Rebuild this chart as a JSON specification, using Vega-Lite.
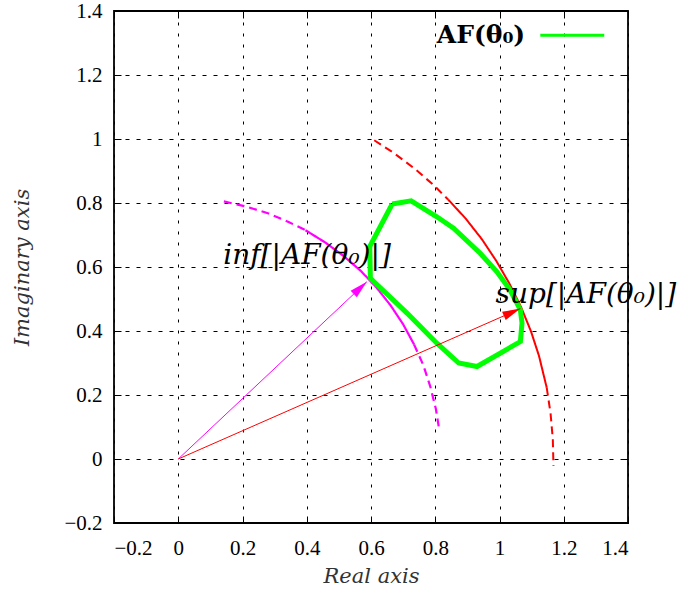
{
  "$schema": "https://vega.github.io/schema/vega-lite/v6.json",
  "width": 514,
  "height": 512,
  "autosize": {"type": "none"},
  "padding": {"left": 114, "top": 11, "right": 57, "bottom": 75},
  "background": "white",
  "config": {
    "view": {"stroke": "black", "strokeWidth": 1.8},
    "axis": {
      "domain": false,
      "labelFont": "Liberation Serif",
      "labelFontSize": 21,
      "labelColor": "black",
      "titleFont": "DejaVu Serif",
      "titleFontSize": 21,
      "titleFontStyle": "italic",
      "titleFontWeight": "normal",
      "titleColor": "#333",
      "tickColor": "black",
      "tickWidth": 1,
      "tickSize": -7,
      "gridColor": "black",
      "gridOpacity": 1,
      "gridWidth": 1
    }
  },
  "datasets": {
    "curves": [
      {"c": "sup", "seg": "s1", "dash": "dashed", "o": 1, "x": 0.610, "y": 0.996},
      {"c": "sup", "seg": "s1", "dash": "dashed", "o": 2, "x": 0.670, "y": 0.957},
      {"c": "sup", "seg": "s1", "dash": "dashed", "o": 3, "x": 0.735, "y": 0.908},
      {"c": "sup", "seg": "s1", "dash": "dashed", "o": 4, "x": 0.797, "y": 0.854},
      {"c": "sup", "seg": "s1", "dash": "dashed", "o": 5, "x": 0.840, "y": 0.811},
      {"c": "sup", "seg": "s2", "dash": "solid", "o": 1, "x": 0.840, "y": 0.811},
      {"c": "sup", "seg": "s2", "dash": "solid", "o": 2, "x": 0.895, "y": 0.751},
      {"c": "sup", "seg": "s2", "dash": "solid", "o": 3, "x": 0.945, "y": 0.687},
      {"c": "sup", "seg": "s2", "dash": "solid", "o": 4, "x": 0.990, "y": 0.619},
      {"c": "sup", "seg": "s2", "dash": "solid", "o": 5, "x": 1.031, "y": 0.548},
      {"c": "sup", "seg": "s2", "dash": "solid", "o": 6, "x": 1.067, "y": 0.475},
      {"c": "sup", "seg": "s2", "dash": "solid", "o": 7, "x": 1.098, "y": 0.399},
      {"c": "sup", "seg": "s2", "dash": "solid", "o": 8, "x": 1.123, "y": 0.322},
      {"c": "sup", "seg": "s2", "dash": "solid", "o": 9, "x": 1.147, "y": 0.223},
      {"c": "sup", "seg": "s3", "dash": "dashed", "o": 1, "x": 1.147, "y": 0.223},
      {"c": "sup", "seg": "s3", "dash": "dashed", "o": 2, "x": 1.159, "y": 0.142},
      {"c": "sup", "seg": "s3", "dash": "dashed", "o": 3, "x": 1.166, "y": 0.061},
      {"c": "sup", "seg": "s3", "dash": "dashed", "o": 4, "x": 1.168, "y": -0.022},
      {"c": "inf", "seg": "i1", "dash": "dashed", "o": 1, "x": 0.142, "y": 0.805},
      {"c": "inf", "seg": "i1", "dash": "dashed", "o": 2, "x": 0.211, "y": 0.789},
      {"c": "inf", "seg": "i1", "dash": "dashed", "o": 3, "x": 0.279, "y": 0.768},
      {"c": "inf", "seg": "i1", "dash": "dashed", "o": 4, "x": 0.345, "y": 0.740},
      {"c": "inf", "seg": "i1", "dash": "dashed", "o": 5, "x": 0.396, "y": 0.715},
      {"c": "inf", "seg": "i2", "dash": "solid", "o": 1, "x": 0.396, "y": 0.715},
      {"c": "inf", "seg": "i2", "dash": "solid", "o": 2, "x": 0.457, "y": 0.677},
      {"c": "inf", "seg": "i2", "dash": "solid", "o": 3, "x": 0.514, "y": 0.635},
      {"c": "inf", "seg": "i2", "dash": "solid", "o": 4, "x": 0.568, "y": 0.588},
      {"c": "inf", "seg": "i2", "dash": "solid", "o": 5, "x": 0.617, "y": 0.536},
      {"c": "inf", "seg": "i2", "dash": "solid", "o": 6, "x": 0.661, "y": 0.480},
      {"c": "inf", "seg": "i2", "dash": "solid", "o": 7, "x": 0.700, "y": 0.421},
      {"c": "inf", "seg": "i2", "dash": "solid", "o": 8, "x": 0.734, "y": 0.358},
      {"c": "inf", "seg": "i3", "dash": "dashed", "o": 1, "x": 0.734, "y": 0.358},
      {"c": "inf", "seg": "i3", "dash": "dashed", "o": 2, "x": 0.763, "y": 0.293},
      {"c": "inf", "seg": "i3", "dash": "dashed", "o": 3, "x": 0.785, "y": 0.225},
      {"c": "inf", "seg": "i3", "dash": "dashed", "o": 4, "x": 0.802, "y": 0.156},
      {"c": "inf", "seg": "i3", "dash": "dashed", "o": 5, "x": 0.811, "y": 0.100}
    ],
    "af": [
      {"o": 1, "x": 0.666, "y": 0.797},
      {"o": 2, "x": 0.725, "y": 0.807},
      {"o": 3, "x": 0.805, "y": 0.757},
      {"o": 4, "x": 0.857, "y": 0.721},
      {"o": 5, "x": 0.940, "y": 0.643},
      {"o": 6, "x": 0.992, "y": 0.585},
      {"o": 7, "x": 1.033, "y": 0.528},
      {"o": 8, "x": 1.065, "y": 0.466},
      {"o": 9, "x": 1.070, "y": 0.425},
      {"o": 10, "x": 1.065, "y": 0.367},
      {"o": 11, "x": 0.930, "y": 0.289},
      {"o": 12, "x": 0.873, "y": 0.300},
      {"o": 13, "x": 0.805, "y": 0.362},
      {"o": 14, "x": 0.712, "y": 0.456},
      {"o": 15, "x": 0.598, "y": 0.565},
      {"o": 16, "x": 0.596, "y": 0.664},
      {"o": 17, "x": 0.666, "y": 0.797}
    ],
    "arrows": [
      {"c": "inf", "o": 1, "x": 0, "y": 0},
      {"c": "inf", "o": 2, "x": 0.587, "y": 0.554},
      {"c": "sup", "o": 1, "x": 0, "y": 0},
      {"c": "sup", "o": 2, "x": 1.065, "y": 0.470}
    ],
    "labels": [
      {"label": "inf[|AF(θ₀)|]", "x": 0.401, "y": 0.634},
      {"label": "sup[|AF(θ₀)|]", "x": 1.269, "y": 0.513}
    ],
    "legend": [
      {"label": "AF(θ₀)", "x": 1.080, "x2": 1.127, "x3": 1.326, "y": 1.324}
    ]
  },
  "layer": [
    {
      "data": {"name": "curves"},
      "transform": [{"filter": "datum.c === 'sup'"}],
      "mark": {"type": "line", "color": "#ff0000", "strokeWidth": 2},
      "encoding": {
        "x": {"field": "x", "type": "quantitative", "scale": {"domain": [-0.2, 1.4], "nice": false, "zero": false},
              "axis": {"values": [-0.2, 0, 0.2, 0.4, 0.6, 0.8, 1, 1.2, 1.4], "format": "~g", "grid": true, "gridDash": [3, 8], "labelPadding": 21, "title": "Real axis", "titlePadding": 7}},
        "y": {"field": "y", "type": "quantitative", "scale": {"domain": [-0.2, 1.4], "nice": false, "zero": false},
              "axis": {"values": [-0.2, 0, 0.2, 0.4, 0.6, 0.8, 1, 1.2, 1.4], "format": "~g", "grid": true, "gridDash": [4, 7], "labelPadding": 19, "title": "Imaginary axis", "titlePadding": 31}},
        "detail": {"field": "seg"},
        "order": {"field": "o", "type": "quantitative"},
        "strokeDash": {"field": "dash", "type": "nominal", "scale": {"domain": ["solid", "dashed"], "range": [[1, 0], [8, 5]]}, "legend": null}
      }
    },
    {
      "data": {"name": "curves"},
      "transform": [{"filter": "datum.c === 'inf'"}],
      "mark": {"type": "line", "color": "#ff00ff", "strokeWidth": 2.2},
      "encoding": {
        "x": {"field": "x", "type": "quantitative", "axis": null},
        "y": {"field": "y", "type": "quantitative", "axis": null},
        "detail": {"field": "seg"},
        "order": {"field": "o", "type": "quantitative"},
        "strokeDash": {"field": "dash", "type": "nominal", "legend": null}
      }
    },
    {
      "data": {"name": "af"},
      "mark": {"type": "line", "color": "#00ff00", "strokeWidth": 5, "strokeJoin": "miter"},
      "encoding": {
        "x": {"field": "x", "type": "quantitative", "axis": null},
        "y": {"field": "y", "type": "quantitative", "axis": null},
        "order": {"field": "o", "type": "quantitative"}
      }
    },
    {
      "data": {"name": "arrows"},
      "transform": [{"filter": "datum.c === 'inf'"}],
      "mark": {"type": "line", "color": "#ff00ff", "strokeWidth": 1},
      "encoding": {
        "x": {"field": "x", "type": "quantitative", "axis": null},
        "y": {"field": "y", "type": "quantitative", "axis": null},
        "order": {"field": "o", "type": "quantitative"}
      }
    },
    {
      "data": {"name": "arrows"},
      "transform": [{"filter": "datum.c === 'sup'"}],
      "mark": {"type": "line", "color": "#ff0000", "strokeWidth": 1},
      "encoding": {
        "x": {"field": "x", "type": "quantitative", "axis": null},
        "y": {"field": "y", "type": "quantitative", "axis": null},
        "order": {"field": "o", "type": "quantitative"}
      }
    },
    {
      "data": {"name": "arrows"},
      "transform": [{"filter": "datum.c === 'inf' && datum.o === 2"}],
      "mark": {"type": "point", "shape": "M0,0L-0.5,2L0.5,2Z", "size": 324, "angle": 46.7, "filled": true, "color": "#ff00ff", "opacity": 1},
      "encoding": {
        "x": {"field": "x", "type": "quantitative", "axis": null},
        "y": {"field": "y", "type": "quantitative", "axis": null}
      }
    },
    {
      "data": {"name": "arrows"},
      "transform": [{"filter": "datum.c === 'sup' && datum.o === 2"}],
      "mark": {"type": "point", "shape": "M0,0L-0.5,2L0.5,2Z", "size": 324, "angle": 66.2, "filled": true, "color": "#ff0000", "opacity": 1},
      "encoding": {
        "x": {"field": "x", "type": "quantitative", "axis": null},
        "y": {"field": "y", "type": "quantitative", "axis": null}
      }
    },
    {
      "data": {"name": "labels"},
      "mark": {"type": "text", "font": "DejaVu Serif", "fontStyle": "italic", "fontSize": 28, "align": "center", "baseline": "middle", "color": "black"},
      "encoding": {
        "x": {"field": "x", "type": "quantitative", "axis": {"orient": "top", "values": [-0.2, 0, 0.2, 0.4, 0.6, 0.8, 1, 1.2, 1.4], "labels": false, "grid": false, "title": null}},
        "y": {"field": "y", "type": "quantitative", "axis": {"orient": "right", "values": [-0.2, 0, 0.2, 0.4, 0.6, 0.8, 1, 1.2, 1.4], "labels": false, "grid": false, "title": null}},
        "text": {"field": "label"}
      }
    },
    {
      "data": {"name": "legend"},
      "mark": {"type": "text", "font": "DejaVu Serif", "fontWeight": "bold", "fontSize": 25, "align": "right", "baseline": "middle", "color": "black"},
      "encoding": {
        "x": {"field": "x", "type": "quantitative", "axis": null},
        "y": {"field": "y", "type": "quantitative", "axis": null},
        "text": {"field": "label"}
      }
    },
    {
      "data": {"name": "legend"},
      "mark": {"type": "rule", "color": "#00ff00", "strokeWidth": 3},
      "encoding": {
        "x": {"field": "x2", "type": "quantitative", "axis": null},
        "x2": {"field": "x3"},
        "y": {"field": "y", "type": "quantitative", "axis": null}
      }
    }
  ],
  "resolve": {"axis": {"x": "independent", "y": "independent"}}
}
